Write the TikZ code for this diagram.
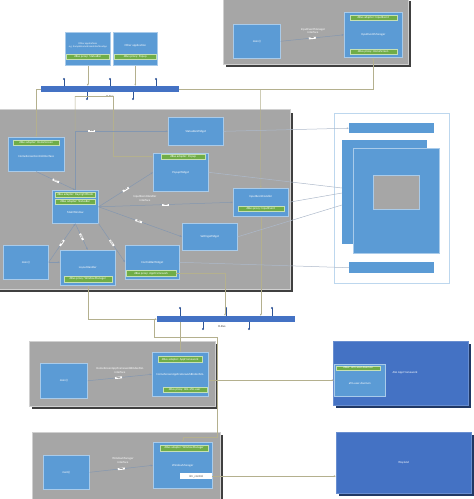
\documentclass[tikz,border=0pt]{standalone}
\usepackage{fontspec}
\setmainfont{Carlito}
\usetikzlibrary{arrows.meta}
\definecolor{panelc}{HTML}{A6A6A6}
\definecolor{paneledge}{HTML}{D0D0D0}
\definecolor{shadowc}{HTML}{404040}
\definecolor{boxc}{HTML}{5B9BD5}
\definecolor{boxedge}{HTML}{A9CBEA}
\definecolor{greenc}{HTML}{70AD47}
\definecolor{greenedge}{HTML}{C5E0B4}
\definecolor{busc}{HTML}{4472C4}
\definecolor{dotc}{HTML}{2F5597}
\definecolor{darkc}{HTML}{4472C4}
\definecolor{darkshadow}{HTML}{203864}
\definecolor{olivec}{HTML}{B4B08E}
\definecolor{linec}{HTML}{8497B0}
\definecolor{outc}{HTML}{ADB9CA}
\definecolor{framec}{HTML}{BDD7EE}
\begin{document}
\begin{tikzpicture}[x=1pt,y=-1pt,
  every node/.style={font=\fontsize{3}{3.6}\selectfont, text=white, inner sep=0pt, align=center},
  bx/.style={draw=boxedge, fill=boxc, line width=0.6pt, anchor=north west},
  gr/.style={draw=greenedge, fill=greenc, line width=0.4pt, anchor=north west},
  pnl/.style={fill=panelc, draw=paneledge, line width=0.6pt},
  lbl/.style={fill=white, text=black, font=\fontsize{2}{2.4}\selectfont, inner sep=0.5pt, minimum width=7pt},
  tip/.style={-{Latex[length=2.2pt,width=2pt]}},
  dbusline/.style={draw=olivec, line width=0.5pt},
  inline/.style={draw=linec, line width=0.5pt},
  outline/.style={draw=outc, line width=0.5pt},
  stem/.style={draw=dotc, line width=0.4pt},
]
\useasboundingbox (0,0) rectangle (474,499);

% ---------------- panels ----------------
\fill[shadowc] (226,1) rectangle (411,67);
\draw[pnl] (223,-2) rectangle (408,64);
\fill[shadowc] (-2,113) rectangle (293,292);
\draw[pnl] (-2,109) rectangle (290,289);
\fill[shadowc] (32,344) rectangle (218,409);
\draw[pnl] (29,341) rectangle (215,406);
\fill[shadowc] (35,435) rectangle (223,502);
\draw[pnl] (32,432) rectangle (220,499);

% ---------------- top right: InputEventManager ----------------
\node[bx, minimum width=47pt, minimum height=34pt] (mainA) at (233,24) {main()};
\node[bx, minimum width=58pt, minimum height=45pt] (iem) at (344,12) {InputEventManager};
\node[gr, minimum width=47pt, minimum height=5pt] (iemA) at (349.5,15) {dBus adapter: InputEvent};
\node[gr, minimum width=47pt, minimum height=5pt] (iemP) at (349.5,49) {dBus proxy: HomeScreen};
\draw[inline, tip] (mainA.east) -- node[lbl, sloped]{uses} (iem.west);
\node (iemtxt) at (313,31) {InputEventManager\\interface};

% ---------------- top left: other applications ----------------
\node[bx, minimum width=45pt, minimum height=33pt, font=\fontsize{2.5}{3}\selectfont] (oth1) at (65,32) {Other applications\\e.g. SampleHomeScreenInterfaceApp\\[4pt]\mbox{}};
\node[gr, minimum width=43pt, minimum height=5pt] (oth1P) at (66,54) {dBus proxy: StatusBar};
\node[bx, minimum width=44pt, minimum height=33pt] (oth2) at (113,32) {Other application\\[3pt]\mbox{}};
\node[gr, minimum width=42pt, minimum height=5pt] (oth2P) at (114,54) {dBus proxy: Popup};

% ---------------- D-Bus 1 ----------------
\node[fill=busc, anchor=north west, minimum width=138pt, minimum height=6pt] (bus1) at (41,86) {};
\node[text=black!75] (bus1lbl) at (110,96.5) {D-Bus};
\foreach \xx in {64,110,156} {\draw[stem] (\xx,86) -- (\xx,79); \fill[dotc] (\xx,79) circle (1.1);}
\foreach \xx in {87,133} {\draw[stem] (\xx,92) -- (\xx,99); \fill[dotc] (\xx,99) circle (1.1);}

% ---------------- main panel: HomeScreen ----------------
\node[bx, minimum width=56pt, minimum height=34pt] (hsci) at (8,137) {\\[3pt]HomeScreenControlInterface};
\node[gr, minimum width=46pt, minimum height=5pt] (hsciA) at (13,140) {dBus adapter: HomeScreen};
\node[bx, minimum width=46pt, minimum height=33pt] (mainwin) at (52,190) {\\[10pt]MainWindow};
\node[gr, minimum width=40pt, minimum height=5pt] (mwA1) at (55,192) {dBus adapter: DaynightMode};
\node[gr, minimum width=40pt, minimum height=5pt] (mwA2) at (55,199) {dBus adapter: StatusBar};
\node[bx, minimum width=55pt, minimum height=28pt] (statusbar) at (168,117) {StatusBarWidget};
\node[bx, minimum width=55pt, minimum height=38pt] (popup) at (153,153) {PopupWidget};
\node[gr, minimum width=44pt, minimum height=5pt] (popA) at (161,154) {dBus adapter: Popup};
\node[bx, minimum width=55pt, minimum height=28pt] (ieh) at (233,188) {InputEventHandler\\[8pt]\mbox{}};
\node[gr, minimum width=46pt, minimum height=5pt] (iehP) at (237.5,206) {dBus proxy: InputEvent};
\node[bx, minimum width=55pt, minimum height=27pt] (settings) at (182,223) {SettingsWidget};
\node[bx, minimum width=45pt, minimum height=34pt] (main2) at (3,245) {main()};
\node[bx, minimum width=55pt, minimum height=35pt] (layout) at (60,250) {LayoutHandler};
\node[gr, minimum width=48pt, minimum height=6pt] (layP) at (63.5,276) {dBus proxy: WindowManager};
\node[bx, minimum width=54pt, minimum height=34pt] (controlbar) at (125,245) {ControlBarWidget};
\node[gr, minimum width=50pt, minimum height=6pt] (cbP) at (126,270) {dBus proxy: AppFramework};

% ---------------- right: screen frame ----------------
\node[draw=framec, fill=white, line width=0.6pt, anchor=north west, minimum width=115pt, minimum height=170pt] (frame) at (334,113) {};
\node[fill=boxc, anchor=north west, minimum width=85pt, minimum height=10pt] (topbar) at (349,123) {};
\node[fill=boxc, anchor=north west, minimum width=85pt, minimum height=104pt] (backpage) at (342,140) {};
\node[fill=boxc, draw=boxedge, line width=0.5pt, anchor=north west, minimum width=86pt, minimum height=105pt] (frontpage) at (353,148) {};
\node[fill=panelc, draw=boxedge, line width=0.6pt, anchor=north west, minimum width=46pt, minimum height=34pt] (popview) at (373,175) {};
\node[fill=boxc, anchor=north west, minimum width=85pt, minimum height=11pt] (bottombar) at (349,262) {};
\coordinate (fp1) at (342,188);
\coordinate (fp2) at (342,193);
\coordinate (fp3) at (342,205);

% ---------------- D-Bus 2 ----------------
\node[fill=busc, anchor=north west, minimum width=138pt, minimum height=6pt] (bus2) at (157,316) {};
\node[text=black!75] (bus2lbl) at (222,327) {D-Bus};
\foreach \xx in {180,226,272} {\draw[stem] (\xx,316) -- (\xx,308); \fill[dotc] (\xx,308) circle (1.1);}
\foreach \xx in {203,249} {\draw[stem] (\xx,322) -- (\xx,329); \fill[dotc] (\xx,329) circle (1.1);}

% ---------------- panel 1: app framework binder ----------------
\node[bx, minimum width=47pt, minimum height=35pt] (main3) at (40,363) {main()};
\node[bx, minimum width=56pt, minimum height=44pt] (binder) at (152,352) {HomeScreenAppFrameworkBinderAGL};
\node[gr, minimum width=44pt, minimum height=6pt] (binA) at (158,356) {dBus adapter: AppFramework};
\node[gr, minimum width=44pt, minimum height=5pt] (binP) at (162.5,387) {dBus proxy: AGL afm-user};
\draw[inline, tip] (main3.east) -- node[lbl, sloped, pos=0.48]{uses} (binder.west);
\node (bintxt) at (120,370.5) {HomeScreenAppFrameworkBinderAGL\\interface};

% ---------------- panel 2: window manager ----------------
\node[bx, minimum width=46pt, minimum height=34pt] (main4) at (43,455) {main()};
\node[bx, minimum width=59pt, minimum height=46pt] (wm) at (153,442) {WindowManager};
\node[gr, minimum width=48pt, minimum height=6pt] (wmA) at (160,445) {dBus adapter: WindowManager};
\node[fill=white, text=black!70, anchor=north west, minimum width=32pt, minimum height=6pt] (wmw) at (180,473) {ilm\_control};
\draw[inline, tip] (main4.east) -- node[lbl, sloped]{uses} (wm.west);
\node (wmtxt) at (123,460.5) {WindowManager\\interface};

% ---------------- AGL App Framework & Wayland ----------------
\fill[darkshadow] (336,344) rectangle (471,408);
\node[fill=darkc, draw=darkc!80!white, line width=0.5pt, anchor=north west, minimum width=135pt, minimum height=64pt] (agl) at (333,341) {};
\node[fill=boxc, draw=boxedge, line width=0.5pt, anchor=north west, minimum width=51pt, minimum height=32pt] (aglin) at (334,364) {\\[4pt]afm-user-daemon};
\node[gr, minimum width=44pt, minimum height=4pt] (aglinA) at (336,365.5) {dBus: afm-user-daemon};
\node (agltxt) at (405,373) {AGL App Framework};
\fill[darkshadow] (339,435) rectangle (474,496);
\node[fill=darkc, draw=darkc!80!white, line width=0.5pt, anchor=north west, minimum width=135pt, minimum height=61pt] (wayland) at (336,432) {Wayland};

% ---------------- D-Bus connectors ----------------
\draw[dbusline, tip] (oth1.south) -- (oth1.south |- bus1.north);
\draw[dbusline, tip] (oth2.south) -- (oth2.south |- bus1.north);
\draw[dbusline, tip] (bus1.east) -| (iem.south);
\coordinate (j1) at (260.5,89);
\draw[dbusline, tip] (j1) -- (ieh.north);
\draw[dbusline, tip] (bus1.west) -| (hsci.north);
\coordinate (jl) at (75,96);
\coordinate (jr) at (113,96);
\draw[dbusline, tip] (jl) -- (mainwin.north);
\draw[dbusline, tip] (jl) -- (jr) |- (popup.west |- popA.west);
\draw[dbusline, tip] (layout.south) |- (bus2.west);
\coordinate (b2a) at (225,316);
\draw[dbusline, tip] (cbP.east) -| (b2a);
\draw[dbusline, tip] (ieh.south) -- (ieh.south |- bus2.north);
\draw[dbusline, tip] (binder.north |- bus2.south) -- (binder.north);
\coordinate (w1) at (154,319);
\coordinate (w2) at (217,337);
\coordinate (w3) at (217,437);
\draw[dbusline, tip] (w1) |- (w2) -- (w3) -| (wm.north);
\draw[dbusline, tip] (binder.east |- aglin.west) -- (aglin.west);
\draw[dbusline, tip] (wmw.east) -- (wmw.east -| wayland.west);

% ---------------- HomeScreen internal connectors ----------------
\draw[inline, tip] (hsci.south) -- node[lbl, sloped]{uses} (mainwin.north);
\draw[inline, tip] (mainwin.north) |- node[lbl, pos=0.59]{uses} (statusbar.west);
\draw[inline, tip] (mainwin.east) -- node[lbl, sloped]{uses} (popup.west);
\draw[inline, tip] (mainwin.east) -- node[lbl, pos=0.5]{uses} (ieh.west);
\node (iehtxt) at (145,198.5) {InputEventHandler\\interface};
\draw[inline, tip] (mainwin.east) -- node[lbl, sloped, pos=0.48]{uses} (settings.west);
\draw[inline, tip] (main2.east) -- node[lbl, sloped]{uses} (mainwin.south);
\draw[inline, tip] (mainwin.south) -- node[lbl, sloped]{uses} (layout.north);
\draw[inline, tip] (mainwin.south east) -- node[lbl, sloped]{uses} (controlbar.west);
\draw[inline, tip] (main2.east) -- (main2.east -| layout.west);

% ---------------- to screen frame ----------------
\draw[outline, tip] (statusbar.east) -- (topbar.west);
\draw[outline] (popup.east) -- (fp1);
\draw[outline] (ieh.east) -- (fp2);
\draw[outline] (settings.east) -- (fp3);
\draw[outline] (controlbar.east) -- (bottombar.west);
\end{tikzpicture}
\end{document}
